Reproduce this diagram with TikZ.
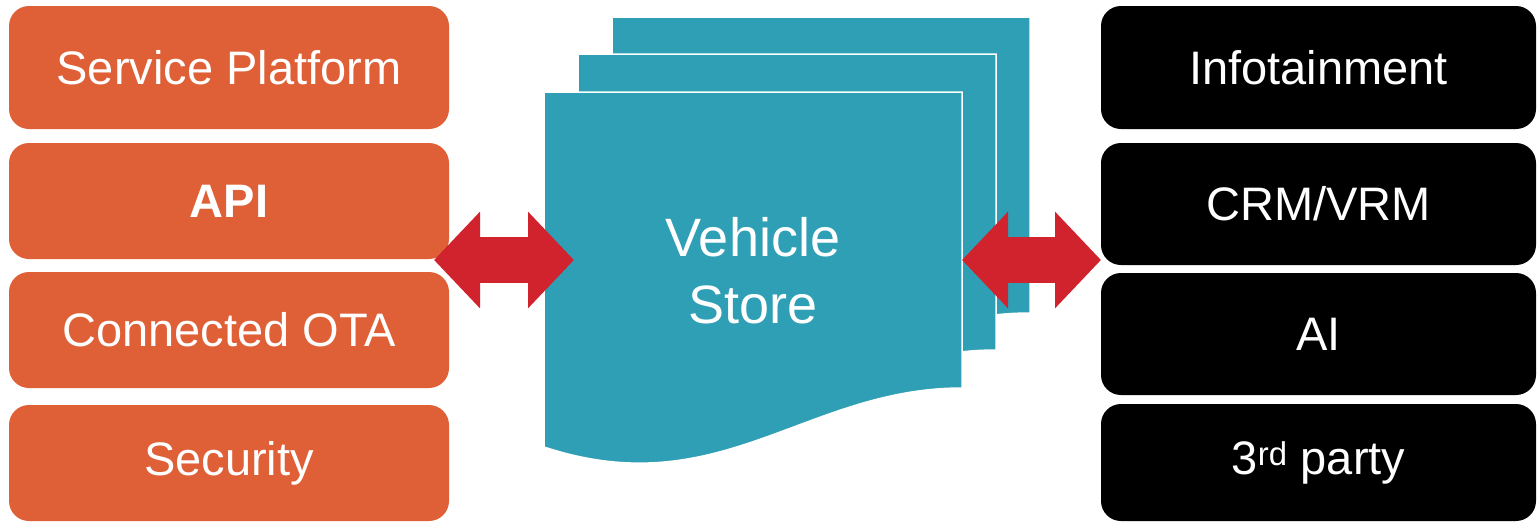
\documentclass[tikz,border=0pt]{standalone}
\usepackage{fontspec}
\setmainfont{Liberation Sans}
\usetikzlibrary{arrows.meta,positioning}
\definecolor{orangebox}{RGB}{223,95,54}
\definecolor{storeblue}{RGB}{47,159,181}
\definecolor{arrowred}{RGB}{208,35,46}

\begin{document}
\begin{tikzpicture}[
      x=1pt, y=-1pt,
      every node/.style={font=\fontsize{47}{56}\selectfont, text=white},
      block/.style={rectangle, fill=orangebox, rounded corners=20pt, minimum width=440pt, inner sep=0pt},
      dark/.style={block, fill=black, minimum width=435pt},
      page/.style={fill=storeblue, draw=white, line width=1.5pt},
      line/.style={draw=arrowred, line width=46pt, {Triangle[length=46pt, width=94pt]}-{Triangle[length=46pt, width=94pt]}}
    ]
    \useasboundingbox (0,0) rectangle (1537,523);
    % Left column
    \node [block, minimum height=123pt] (platform) at (229,67.5) {Service Platform};
    \node [block, minimum height=116pt] (api) at (229,201) {\bfseries API};
    \node [block, minimum height=116pt] (ota) at (229,330) {Connected OTA};
    \node [block, minimum height=116pt] (security) at (229,463) {Security};
    % Right column
    \node [dark, minimum height=123pt] (info) at (1318.5,67.5) {Infotainment};
    \node [dark, minimum height=122pt] (crm) at (1318.5,204) {CRM/VRM};
    \node [dark, minimum height=122pt] (ai) at (1318.5,334) {AI};
    \node [dark, minimum height=117pt] (third) at (1318.5,462.5) {3\textsuperscript{rd} party};
    % Store pages
    \foreach \dx/\dy in {68/-75, 34/-38, 0/0}
      \path [page, shift={(\dx,\dy)}] (544,92) -- (962,92) -- (962,388)
        .. controls (805,388) and (720,505) .. (544,447) -- cycle;
    \node [font=\fontsize{54}{67}\selectfont, align=center] (store) at (753,271) {Vehicle\\Store};
    % Arrows
    \coordinate (leftA) at (434,260);
    \coordinate (leftB) at (574,260);
    \coordinate (rightA) at (962,260);
    \coordinate (rightB) at (1101,260);
    \path [line] (leftA) -- (leftB);
    \path [line] (rightA) -- (rightB);
  \end{tikzpicture}
\end{document}
